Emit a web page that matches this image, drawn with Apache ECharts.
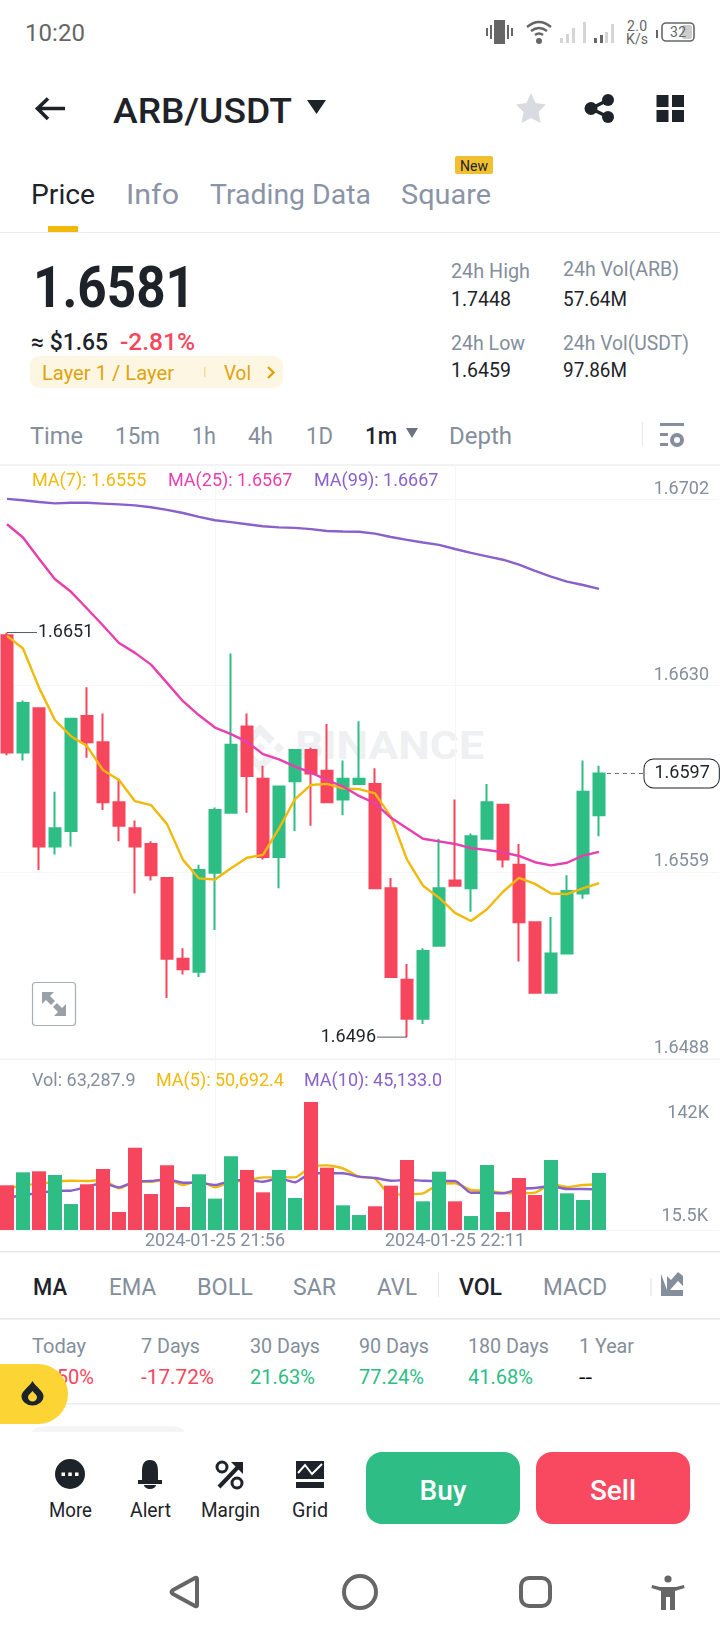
<!DOCTYPE html>
<html>
<head>
<meta charset="utf-8">
<title>ARB/USDT</title>
<script src="https://cdn.jsdelivr.net/npm/echarts@6/dist/echarts.min.js"></script>
<style>
html, body { margin: 0; padding: 0; background: #fff; }
#page { position: relative; width: 720px; height: 1640px; overflow: hidden; }
#ui { position: absolute; left: 0; top: 0; }
#chart { position: absolute; left: -1px; top: 466px; width: 721px; height: 786px; }
text { font-family: Roboto, sans-serif; dominant-baseline: central; }
.g { fill: #848e9c; }
.d { fill: #1e2329; }
.r { fill: #f6465d; }
.u { fill: #2ebd85; }
.c { text-anchor: middle; }
</style>
</head>
<body>
<div id="page">
<svg id="ui" width="720" height="1640" xmlns="http://www.w3.org/2000/svg">
  <!-- status bar -->
  <text x="25" y="33" font-size="24" fill="#666" textLength="60">10:20</text>
  <g fill="#666">
    <rect x="494" y="20" width="11" height="24"/><rect x="490" y="25" width="2" height="14"/><rect x="486" y="28" width="2" height="8"/>
    <rect x="507" y="25" width="2" height="14"/><rect x="511" y="28" width="2" height="8"/>
    <circle cx="539" cy="41" r="3"/>
  </g>
  <g fill="none" stroke="#666" stroke-width="2.4">
    <path d="M527 27 Q539 17 551 27"/><path d="M531 31 Q539 25 547 31"/><path d="M535 35 Q539 32 543 35"/>
  </g>
  <g fill="#d5d5d5">
    <rect x="560" y="38" width="3" height="5"/><rect x="566" y="34" width="3" height="9"/><rect x="572" y="28" width="3" height="15"/><rect x="583" y="22" width="3" height="21"/>
    <rect x="605" y="32" width="3" height="11"/><rect x="611" y="24" width="3" height="19"/>
  </g>
  <g fill="#666"><rect x="594" y="38" width="3" height="5"/><rect x="600" y="35" width="3" height="8"/></g>
  <text x="627" y="26" font-size="14" fill="#666" textLength="20">2.0</text>
  <text x="626" y="39" font-size="14" fill="#666" textLength="22">K/s</text>
  <rect x="656" y="30" width="2" height="8" fill="#666"/>
  <rect x="662" y="23" width="32" height="18" rx="4" fill="none" stroke="#666" stroke-width="1.6"/>
  <rect x="682" y="25" width="10" height="14" rx="2" fill="#ccc"/>
  <text x="670" y="32" font-size="14" fill="#666" textLength="16">32</text>

  <!-- header -->
  <path d="M65 108.5H38M48 98.5L37.5 108.5L48 119" fill="none" stroke="#1e2329" stroke-width="3.6"/>
  <text x="113" y="111" font-size="35" font-weight="500" class="d" textLength="179" lengthAdjust="spacingAndGlyphs">ARB/USDT</text>
  <path d="M307 100H326L316.500 114Z" fill="#1e2329"/>
  <polygon points="531,93 535.500,103 546,104.500 538.500,112 540.500,123 531,118 521.500,123 523.500,112 516,104.500 526.500,103" fill="#d8dbe0"/>
  <g fill="#1e2329">
    <circle cx="608" cy="100" r="6"/><circle cx="591" cy="108.500" r="6.500"/><circle cx="608" cy="117" r="6"/>
    <path d="M591 108.500L608 100M591 108.500L608 117" stroke="#1e2329" stroke-width="3.500"/>
    <rect x="656.500" y="95" width="12" height="12"/><rect x="672" y="95" width="12" height="12"/>
    <rect x="656.500" y="110" width="12" height="12"/><rect x="672" y="110" width="12" height="12"/>
  </g>

  <!-- tabs -->
  <text x="31" y="195" font-size="27" class="d" textLength="64" lengthAdjust="spacingAndGlyphs">Price</text>
  <text x="126" y="195" font-size="27" fill="#8a94a6" textLength="53" lengthAdjust="spacingAndGlyphs">Info</text>
  <text x="210" y="195" font-size="27" fill="#8a94a6" textLength="161" lengthAdjust="spacingAndGlyphs">Trading Data</text>
  <text x="401" y="195" font-size="27" fill="#8a94a6" textLength="90" lengthAdjust="spacingAndGlyphs">Square</text>
  <rect x="455" y="156" width="38" height="18" rx="2" fill="#f0c030"/>
  <text x="474" y="165.500" font-size="14" class="d c">New</text>
  <rect x="48" y="226" width="30" height="6" fill="#f0b90b"/>
  <rect x="0" y="232" width="720" height="1" fill="#eaecef"/>

  <!-- ticker -->
  <text x="33" y="287" font-size="58" font-weight="700" class="d" textLength="162" lengthAdjust="spacingAndGlyphs">1.6581</text>
  <text x="31" y="342" font-size="23" font-weight="500" class="d" textLength="77" lengthAdjust="spacingAndGlyphs">≈ $1.65</text>
  <text x="120" y="342" font-size="23" font-weight="500" class="r" textLength="75" lengthAdjust="spacingAndGlyphs">-2.81%</text>
  <rect x="30" y="356" width="253" height="32" rx="9" fill="#fdf6e3"/>
  <text x="42" y="373" font-size="20" fill="#e0a30b" textLength="132" lengthAdjust="spacingAndGlyphs">Layer 1 / Layer</text>
  <rect x="204" y="367" width="1.500" height="10" fill="#f3dc9a"/>
  <text x="224" y="373" font-size="20" fill="#e0a30b" textLength="27" lengthAdjust="spacingAndGlyphs">Vol</text>
  <path d="M268 367L273.500 372.500L268 378" fill="none" stroke="#e0a30b" stroke-width="2.400"/>

  <text x="451" y="271" font-size="20" class="g" textLength="79" lengthAdjust="spacingAndGlyphs">24h High</text>
  <text x="451" y="299" font-size="20" class="d" textLength="60" lengthAdjust="spacingAndGlyphs">1.7448</text>
  <text x="451" y="343" font-size="20" class="g" textLength="74" lengthAdjust="spacingAndGlyphs">24h Low</text>
  <text x="451" y="370" font-size="20" class="d" textLength="60" lengthAdjust="spacingAndGlyphs">1.6459</text>
  <text x="563" y="269" font-size="20" class="g" textLength="116" lengthAdjust="spacingAndGlyphs">24h Vol(ARB)</text>
  <text x="563" y="299" font-size="20" class="d" textLength="64" lengthAdjust="spacingAndGlyphs">57.64M</text>
  <text x="563" y="343" font-size="20" class="g" textLength="126" lengthAdjust="spacingAndGlyphs">24h Vol(USDT)</text>
  <text x="563" y="370" font-size="20" class="d" textLength="64" lengthAdjust="spacingAndGlyphs">97.86M</text>

  <!-- interval row -->
  <text x="30" y="436" font-size="24" class="g" textLength="53" lengthAdjust="spacingAndGlyphs">Time</text>
  <text x="115" y="436" font-size="24" class="g" textLength="45" lengthAdjust="spacingAndGlyphs">15m</text>
  <text x="192" y="436" font-size="24" class="g" textLength="24" lengthAdjust="spacingAndGlyphs">1h</text>
  <text x="248" y="436" font-size="24" class="g" textLength="25" lengthAdjust="spacingAndGlyphs">4h</text>
  <text x="306" y="436" font-size="24" class="g" textLength="27" lengthAdjust="spacingAndGlyphs">1D</text>
  <text x="365" y="436" font-size="24" font-weight="500" class="d" textLength="32" lengthAdjust="spacingAndGlyphs">1m</text>
  <path d="M406 428H418L412 438Z" fill="#6b7280"/>
  <text x="449" y="436" font-size="24" class="g" textLength="63" lengthAdjust="spacingAndGlyphs">Depth</text>
  <rect x="642" y="422" width="1" height="24" fill="#e6e8ea"/>
  <g fill="#848e9c">
    <rect x="660" y="423" width="24" height="3"/><rect x="660" y="433" width="8" height="3"/><rect x="660" y="443" width="8" height="3"/>
  </g>
  <circle cx="677" cy="440" r="5" fill="none" stroke="#848e9c" stroke-width="4"/>
  <rect x="0" y="464" width="720" height="2" fill="#f2f3f4"/>

  <!-- watermark and expand button under the chart canvas -->
  <g fill="#eff0f2">
    <g transform="translate(236,724) scale(.38)">
      <path d="M38.73 53.2l24.59-24.58 24.6 24.6 14.3-14.31L63.32 0 24.43 38.9z"/>
      <path d="M0 63.31l14.3-14.31 14.31 14.31-14.31 14.3z"/>
      <path d="M38.73 73.41l24.59 24.59 24.6-24.6 14.31 14.29-38.9 38.91-38.91-38.88-.02-.02z"/>
      <path d="M98 63.31l14.3-14.31 14.31 14.3-14.31 14.32z"/>
      <path d="M77.83 63.3L63.32 48.78 52.59 59.51l-1.24 1.23-2.54 2.54 14.51 14.5 14.51-14.47z"/>
    </g>
    <text x="295" y="746" font-size="39" font-weight="700" textLength="189" lengthAdjust="spacingAndGlyphs">BINANCE</text>
  </g>
  <rect x="32.500" y="982.500" width="43" height="43" rx="3" fill="#fff" stroke="#a9aeb6" stroke-width="1.200"/>
  <g fill="#9aa0a8">
    <path d="M42 992H54L50 996L55 1001L51 1005L46 1000L42 1004Z"/>
    <path d="M66 1016H54L58 1012L53 1007L57 1003L62 1008L66 1004Z"/>
  </g>

  <!-- separators around the volume pane -->
  <rect x="0" y="1058" width="720" height="2" fill="#f2f3f4"/>
  <rect x="0" y="1251" width="720" height="1.500" fill="#e6e8ea"/>

  <!-- indicators row -->
  <text x="33" y="1287" font-size="24" font-weight="500" class="d" textLength="34" lengthAdjust="spacingAndGlyphs">MA</text>
  <text x="109" y="1287" font-size="24" class="g" textLength="47" lengthAdjust="spacingAndGlyphs">EMA</text>
  <text x="197" y="1287" font-size="24" class="g" textLength="56" lengthAdjust="spacingAndGlyphs">BOLL</text>
  <text x="293" y="1287" font-size="24" class="g" textLength="43" lengthAdjust="spacingAndGlyphs">SAR</text>
  <text x="377" y="1287" font-size="24" class="g" textLength="40" lengthAdjust="spacingAndGlyphs">AVL</text>
  <rect x="438" y="1273" width="1" height="24" fill="#e6e8ea"/>
  <text x="459" y="1287" font-size="24" font-weight="500" class="d" textLength="43" lengthAdjust="spacingAndGlyphs">VOL</text>
  <text x="543" y="1287" font-size="24" class="g" textLength="64" lengthAdjust="spacingAndGlyphs">MACD</text>
  <rect x="650" y="1278" width="2" height="18" fill="#eceef0"/>
  <path d="M661 1274V1296H683V1290H670L678 1281L683 1286V1276L678 1272L671 1280L667 1276V1290Z" fill="#848e9c"/>
  <rect x="0" y="1318" width="720" height="1.500" fill="#e6e8ea"/>

  <!-- performance row -->
  <text x="32" y="1346" font-size="20" class="g" textLength="54" lengthAdjust="spacingAndGlyphs">Today</text>
  <text x="141" y="1346" font-size="20" class="g" textLength="59" lengthAdjust="spacingAndGlyphs">7 Days</text>
  <text x="250" y="1346" font-size="20" class="g" textLength="70" lengthAdjust="spacingAndGlyphs">30 Days</text>
  <text x="359" y="1346" font-size="20" class="g" textLength="70" lengthAdjust="spacingAndGlyphs">90 Days</text>
  <text x="468" y="1346" font-size="20" class="g" textLength="81" lengthAdjust="spacingAndGlyphs">180 Days</text>
  <text x="579" y="1346" font-size="20" class="g" textLength="55" lengthAdjust="spacingAndGlyphs">1 Year</text>
  <text x="94" y="1377" font-size="20" class="r" text-anchor="end">50%</text>
  <text x="141" y="1377" font-size="20" class="r" textLength="73" lengthAdjust="spacingAndGlyphs">-17.72%</text>
  <text x="250" y="1377" font-size="20" class="u" textLength="65" lengthAdjust="spacingAndGlyphs">21.63%</text>
  <text x="359" y="1377" font-size="20" class="u" textLength="65" lengthAdjust="spacingAndGlyphs">77.24%</text>
  <text x="468" y="1377" font-size="20" class="u" textLength="65" lengthAdjust="spacingAndGlyphs">41.68%</text>
  <text x="579" y="1377" font-size="20" fill="#000" textLength="13" lengthAdjust="spacingAndGlyphs">--</text>
  <rect x="0" y="1403" width="720" height="1.500" fill="#eaecef"/>
  <path d="M0 1364H38A30 30 0 0 1 68 1394A30 30 0 0 1 38 1424H0Z" fill="#fcd535"/>
  <path d="M32.500 1381C29 1387 21.500 1391 21.500 1396A11 9.500 0 0 0 43.500 1396C43.500 1391 36 1387 32.500 1381ZM32.500 1391C35 1394 37 1395 37 1397A4.500 4.500 0 0 1 28 1397C28 1395 30 1394 32.500 1391Z" fill="#1e2329" fill-rule="evenodd"/>
  <path d="M32 1432V1436H185V1432A14 8 0 0 0 171 1426H46A14 8 0 0 0 32 1432Z" fill="#f5f5f5"/>
  <rect x="0" y="1432" width="720" height="20" fill="#fff"/>

  <!-- actions -->
  <circle cx="70" cy="1474" r="15" fill="#1e2329"/>
  <g fill="#fff"><rect x="61.500" y="1472.500" width="3.500" height="3.500"/><rect x="68.300" y="1472.500" width="3.500" height="3.500"/><rect x="75" y="1472.500" width="3.500" height="3.500"/></g>
  <path d="M150 1460C143 1460 142 1466 142 1472V1480H138V1484H162V1480H158V1472C158 1466 157 1460 150 1460ZM144 1485A6 4 0 0 0 156 1485Z" fill="#1e2329"/>
  <path d="M219 1487L240 1465" stroke="#1e2329" stroke-width="4" fill="none"/>
  <path d="M231 1462H243V1474Z" fill="#1e2329"/>
  <circle cx="222" cy="1467" r="5" fill="none" stroke="#1e2329" stroke-width="3"/>
  <circle cx="237" cy="1483" r="5" fill="none" stroke="#1e2329" stroke-width="3"/>
  <path d="M296 1461H324V1479H296Z" fill="#1e2329"/>
  <path d="M298 1473L305 1465L312 1474L322 1464" fill="none" stroke="#fff" stroke-width="2"/>
  <rect x="296" y="1482" width="28" height="6" fill="#1e2329"/>
  <text x="70.500" y="1510" font-size="20" class="d c" textLength="43" lengthAdjust="spacingAndGlyphs">More</text>
  <text x="150.500" y="1510" font-size="20" class="d c" textLength="41" lengthAdjust="spacingAndGlyphs">Alert</text>
  <text x="230.500" y="1510" font-size="20" class="d c" textLength="59" lengthAdjust="spacingAndGlyphs">Margin</text>
  <text x="310" y="1510" font-size="20" class="d c" textLength="36" lengthAdjust="spacingAndGlyphs">Grid</text>
  <rect x="366" y="1452" width="154" height="72" rx="16" fill="#2ebd85"/>
  <rect x="536" y="1452" width="154" height="72" rx="16" fill="#f84960"/>
  <text x="443" y="1490" font-size="28" font-weight="500" fill="#fff" class="c">Buy</text>
  <text x="613" y="1490" font-size="28" font-weight="500" fill="#fff" class="c">Sell</text>

  <!-- navigation bar -->
  <g fill="none" stroke="#666" stroke-width="4" stroke-linejoin="round">
    <path d="M197 1579V1605Q197 1607 195 1606L173 1594Q170 1592 173 1590L195 1578Q197 1577 197 1579Z"/>
    <circle cx="360" cy="1592" r="16"/>
    <rect x="521" y="1578" width="29" height="28" rx="8"/>
  </g>
  <g fill="#666">
    <circle cx="668" cy="1579" r="3.600"/>
    <path d="M652 1585L660 1587H676L684 1585L684.500 1588L675 1591V1610H670V1597H666V1610H661V1591L651.500 1588Z"/>
  </g>
</svg>
<div id="chart"></div>
</div>
<script>
// one minute candles, 21:43 onward, the last seven slots stay empty
const categories = [
    '2024-01-25 21:43', '2024-01-25 21:44', '2024-01-25 21:45', '2024-01-25 21:46', '2024-01-25 21:47',
    '2024-01-25 21:48', '2024-01-25 21:49', '2024-01-25 21:50', '2024-01-25 21:51', '2024-01-25 21:52',
    '2024-01-25 21:53', '2024-01-25 21:54', '2024-01-25 21:55', '2024-01-25 21:56', '2024-01-25 21:57',
    '2024-01-25 21:58', '2024-01-25 21:59', '2024-01-25 22:00', '2024-01-25 22:01', '2024-01-25 22:02',
    '2024-01-25 22:03', '2024-01-25 22:04', '2024-01-25 22:05', '2024-01-25 22:06', '2024-01-25 22:07',
    '2024-01-25 22:08', '2024-01-25 22:09', '2024-01-25 22:10', '2024-01-25 22:11', '2024-01-25 22:12',
    '2024-01-25 22:13', '2024-01-25 22:14', '2024-01-25 22:15', '2024-01-25 22:16', '2024-01-25 22:17',
    '2024-01-25 22:18', '2024-01-25 22:19', '2024-01-25 22:20', '2024-01-25 22:21', '2024-01-25 22:22',
    '2024-01-25 22:23', '2024-01-25 22:24', '2024-01-25 22:25', '2024-01-25 22:26', '2024-01-25 22:27'
];
const timeLabels = ['2024-01-25 21:56', '2024-01-25 22:11'];

const opens = [
    1.6650, 1.6605, 1.6622, 1.6569, 1.6575, 1.6619, 1.6609, 1.6586, 1.6576, 1.6570,
    1.6557, 1.6526, 1.6521, 1.6559, 1.6582, 1.6615, 1.6595, 1.6565, 1.6594, 1.6606,
    1.6598, 1.6587, 1.6593, 1.6593, 1.6553, 1.6518, 1.6503, 1.6531, 1.6556, 1.6553,
    1.6572, 1.6585, 1.6562, 1.6540, 1.6513, 1.6528, 1.6551, 1.6581
];
const closes = [
    1.6605, 1.6624, 1.6569, 1.6576, 1.6618, 1.6609, 1.6586, 1.6577, 1.6569, 1.6558,
    1.6526, 1.6522, 1.6560, 1.6583, 1.6608, 1.6596, 1.6565, 1.6592, 1.6606, 1.6597,
    1.6586, 1.6595, 1.6595, 1.6553, 1.6519, 1.6503, 1.6529, 1.6553, 1.6554, 1.6573,
    1.6586, 1.6564, 1.6540, 1.6513, 1.6528, 1.6552, 1.6590, 1.6597
];
const lows = [
    1.6604, 1.6602, 1.6560, 1.6566, 1.6569, 1.6603, 1.6583, 1.6571, 1.6551, 1.6556,
    1.6511, 1.6520, 1.6519, 1.6537, 1.6582, 1.6582, 1.6564, 1.6553, 1.6575, 1.6577,
    1.6586, 1.6581, 1.6593, 1.6553, 1.6519, 1.6496, 1.6501, 1.6531, 1.6554, 1.6544,
    1.6572, 1.6561, 1.6525, 1.6513, 1.6513, 1.6528, 1.6549, 1.6573
];
const highs = [
    1.6651, 1.6625, 1.6622, 1.6590, 1.6618, 1.6630, 1.6620, 1.6595, 1.6579, 1.6571,
    1.6557, 1.6530, 1.6562, 1.6584, 1.6643, 1.6620, 1.6600, 1.6592, 1.6606, 1.6607,
    1.6616, 1.6602, 1.6617, 1.6599, 1.6557, 1.6524, 1.6530, 1.6572, 1.6587, 1.6574,
    1.6593, 1.6585, 1.6570, 1.6540, 1.6542, 1.6558, 1.6602, 1.6600
];

const ma7 = [
    1.66497, 1.66449, 1.66299, 1.66174, 1.66113, 1.66075, 1.65983, 1.65945, 1.65864, 1.65849,
    1.65776, 1.65639, 1.65568, 1.65564, 1.65607, 1.65647, 1.65658, 1.65760, 1.65872, 1.65926,
    1.65930, 1.65913, 1.65910, 1.65894, 1.65804, 1.65640, 1.65540, 1.65494, 1.65436, 1.65405,
    1.65450, 1.65517, 1.65570, 1.65547, 1.65510, 1.65508, 1.65530, 1.65550
];
const ma25 = [
    1.66925, 1.66874, 1.66793, 1.66714, 1.66666, 1.66602, 1.66537, 1.66470, 1.66432, 1.66387,
    1.66317, 1.66247, 1.66193, 1.66146, 1.66121, 1.66091, 1.66044, 1.66024, 1.65996, 1.65973,
    1.65945, 1.65920, 1.65884, 1.65856, 1.65800, 1.65760, 1.65720, 1.65710, 1.65700, 1.65684,
    1.65677, 1.65668, 1.65654, 1.65630, 1.65618, 1.65628, 1.65655, 1.65670
];
const ma99 = [
    1.67022, 1.67017, 1.67010, 1.67005, 1.67007, 1.67007, 1.67004, 1.67001, 1.66997, 1.66990,
    1.66980, 1.66968, 1.66953, 1.66940, 1.66933, 1.66925, 1.66917, 1.66913, 1.66911, 1.66906,
    1.66899, 1.66897, 1.66896, 1.66889, 1.66876, 1.66865, 1.66855, 1.66846, 1.66830, 1.66815,
    1.66802, 1.66789, 1.66770, 1.66746, 1.66724, 1.66705, 1.66692, 1.66677
];

const volumes = [
    49600, 64000, 65100, 61000, 28800, 50700, 67700, 20000, 91300, 39900,
    71700, 25500, 61800, 34800, 81700, 66600, 41800, 66600, 35500, 142000,
    69200, 27400, 16600, 26300, 49200, 77700, 31800, 64700, 31800, 15500,
    72100, 20000, 57700, 38800, 77700, 40700, 33300, 63287.9
];
const volMa5 = [
    45100, 49900, 51000, 53600, 54700, 54400, 55500, 46200, 53600, 53600,
    56200, 49900, 54700, 47300, 53600, 54700, 58400, 58400, 58400, 70300,
    71700, 68400, 59200, 56900, 38800, 39900, 40700, 50700, 51800, 44400,
    43600, 41400, 40700, 41400, 51000, 47700, 49900, 50692.4
];
const volMa10 = [
    35100, 38800, 40700, 43600, 43600, 48100, 51800, 47300, 53600, 54400,
    56200, 52500, 52500, 49900, 54700, 55500, 53600, 57300, 52900, 62900,
    62900, 62900, 59200, 57700, 54700, 55500, 54700, 54400, 54400, 41400,
    41400, 40700, 45500, 46600, 48800, 45500, 45500, 45133.0
];

const priceTicks = [1.6488, 1.655933, 1.663067, 1.6702];
const volLowTick = [15500];
const volHighTick = [142000];
const highMark = 1.6651;
const lowMark = 1.6496;
const lastPrice = 1.6597;

const UP = '#2ebd85';
const DOWN = '#f6465d';
const GRID_LINE = '#f5f6f7';
const AXIS_TEXT = '#848e9c';
const FONT = 'Roboto, sans-serif';
const MA_COLORS = { short: '#f0b90b', mid: '#e83fae', long: '#8a60cc' };

const myChart = echarts.init(document.getElementById('chart'), null, { renderer: 'canvas' });

// the app cuts prices to four decimals, it does not round them
function price4(v) {
    return (Math.floor(v * 10000 + 0.000001) / 10000).toFixed(4);
}

function money(v, digits) {
    return v.toLocaleString('en-US', { minimumFractionDigits: digits, maximumFractionDigits: digits });
}

function legendText(x, y, text, fill) {
    return {
        type: 'text', x: x, y: y, z: 10, silent: true,
        style: { text: text, fill: fill, font: '18px ' + FONT, verticalAlign: 'middle' }
    };
}

function maLine(name, data, color, xIndex, yIndex, extra) {
    return Object.assign({
        name: name, type: 'line', data: data, xAxisIndex: xIndex, yAxisIndex: yIndex,
        showSymbol: false, symbol: 'none', silent: true,
        lineStyle: { color: color, width: 2.4 }
    }, extra);
}

function priceMark(index, value, text, side) {
    return {
        coord: [index, value], symbol: 'rect', symbolSize: [30, 1],
        symbolOffset: [side === 'right' ? 15 : -15, 0],
        itemStyle: { color: '#555b63' },
        label: {
            show: true, position: side, distance: 1, formatter: text,
            color: '#1e2329', fontSize: 18, fontFamily: FONT
        }
    };
}

const lastIndex = opens.length - 1;
const tagIndex = lastIndex + 3;
const hideLabel = (i, name) => timeLabels.indexOf(name) >= 0;

const option = {
    backgroundColor: 'transparent',
    animation: false,
    graphic: [
        legendText(33, 15, 'MA(7): ' + price4(ma7[lastIndex]), MA_COLORS.short),
        legendText(169, 15, 'MA(25): ' + price4(ma25[lastIndex]), MA_COLORS.mid),
        legendText(315, 15, 'MA(99): ' + price4(ma99[lastIndex]), MA_COLORS.long),
        legendText(33, 615, 'Vol: ' + money(volumes[lastIndex], 1), AXIS_TEXT),
        legendText(157, 615, 'MA(5): ' + money(volMa5[lastIndex], 1), MA_COLORS.short),
        legendText(305, 615, 'MA(10): ' + money(volMa10[lastIndex], 1), MA_COLORS.long)
    ],
    grid: [
        { left: 0, top: 0, width: 720, height: 592 },
        { left: 0, top: 594, width: 720, height: 170 }
    ],
    xAxis: [
        {
            type: 'category', gridIndex: 0, data: categories,
            axisLine: { show: false }, axisTick: { show: false }, axisLabel: { show: false },
            splitLine: { show: true, alignWithLabel: true, interval: hideLabel, lineStyle: { color: GRID_LINE } }
        },
        {
            type: 'category', gridIndex: 1, data: categories,
            axisLine: { show: true, lineStyle: { color: GRID_LINE } }, axisTick: { show: false },
            axisLabel: { interval: hideLabel, color: AXIS_TEXT, fontSize: 18, fontFamily: FONT, margin: 2 },
            splitLine: { show: true, alignWithLabel: true, interval: hideLabel, lineStyle: { color: GRID_LINE } }
        }
    ],
    yAxis: [
        {
            type: 'value', gridIndex: 0, position: 'right', min: 1.6488, max: 1.67148, scale: true,
            axisLine: { show: false },
            axisTick: { show: false, customValues: priceTicks },
            axisLabel: {
                inside: true, customValues: priceTicks, margin: 10, verticalAlign: 'bottom',
                color: AXIS_TEXT, fontSize: 18, fontFamily: FONT, padding: [0, 0, 1, 0],
                formatter: price4
            },
            splitLine: { show: true, lineStyle: { color: GRID_LINE } }
        },
        {
            type: 'value', gridIndex: 1, position: 'right', min: 0, max: 188600,
            axisLine: { show: false },
            axisTick: { show: false, customValues: volLowTick },
            axisLabel: {
                inside: true, customValues: volLowTick, margin: 11, padding: [6, 0, 0, 0],
                color: AXIS_TEXT, fontSize: 18, fontFamily: FONT,
                formatter: (v) => (v / 1000) + 'K'
            },
            splitLine: { show: false }
        },
        {
            type: 'value', gridIndex: 1, position: 'right', min: 0, max: 188600,
            axisLine: { show: false },
            axisTick: { show: false, customValues: volHighTick },
            axisLabel: {
                inside: true, customValues: volHighTick, margin: 10, verticalAlign: 'top', padding: [2, 0, 0, 0],
                color: AXIS_TEXT, fontSize: 18, fontFamily: FONT,
                formatter: (v) => (v / 1000) + 'K'
            },
            splitLine: { show: false }
        }
    ],
    series: [
        // dashed lead from the last candle to the price tag, its start is hidden behind the candle
        {
            name: 'last', type: 'line', xAxisIndex: 0, yAxisIndex: 0, z: 1, silent: true,
            showSymbol: false, symbol: 'none',
            data: categories.map((c, i) => (i >= lastIndex && i <= tagIndex ? lastPrice : null)),
            lineStyle: { color: '#6b7178', width: 1, type: [4, 4] }
        },
        {
            name: 'candles', type: 'candlestick', xAxisIndex: 0, yAxisIndex: 0, z: 2,
            barWidth: 12, silent: true,
            data: opens.map((o, i) => [o, closes[i], lows[i], highs[i]]),
            itemStyle: { color: UP, color0: DOWN, borderColor: UP, borderColor0: DOWN, borderWidth: 2 },
            markPoint: {
                silent: true, animation: false,
                data: [
                    priceMark(0, highMark, highMark.toFixed(4), 'right'),
                    priceMark(25, lowMark, lowMark.toFixed(4), 'left'),
                    {
                        coord: [tagIndex, lastPrice], symbol: 'rect', symbolSize: 1, symbolOffset: [-3, 0],
                        itemStyle: { color: 'transparent' },
                        label: {
                            show: true, position: 'right', distance: 0, formatter: lastPrice.toFixed(4),
                            color: '#1e2329', fontSize: 18, fontFamily: FONT,
                            backgroundColor: '#fff', borderColor: '#1e2329', borderWidth: 1, borderRadius: 9,
                            padding: [5, 9, 5, 10]
                        }
                    }
                ]
            }
        },
        maLine('MA(7)', ma7, MA_COLORS.short, 0, 0, { z: 3 }),
        maLine('MA(25)', ma25, MA_COLORS.mid, 0, 0, { z: 3 }),
        maLine('MA(99)', ma99, MA_COLORS.long, 0, 0, { z: 3 }),
        maLine('MA(5)', volMa5, MA_COLORS.short, 1, 1, { z: 1, smooth: 0.2 }),
        maLine('MA(10)', volMa10, MA_COLORS.long, 1, 1, { z: 1, smooth: 0.2 }),
        {
            name: 'Vol', type: 'bar', xAxisIndex: 1, yAxisIndex: 1, z: 2, barWidth: 14, silent: true,
            data: volumes.map((v, i) => ({
                value: v,
                itemStyle: { color: closes[i] >= opens[i] ? UP : DOWN }
            }))
        },
        // third axis only carries the 142K label
        { type: 'line', xAxisIndex: 1, yAxisIndex: 2, data: [], silent: true }
    ]
};

myChart.setOption(option);
</script>
</body>
</html>
